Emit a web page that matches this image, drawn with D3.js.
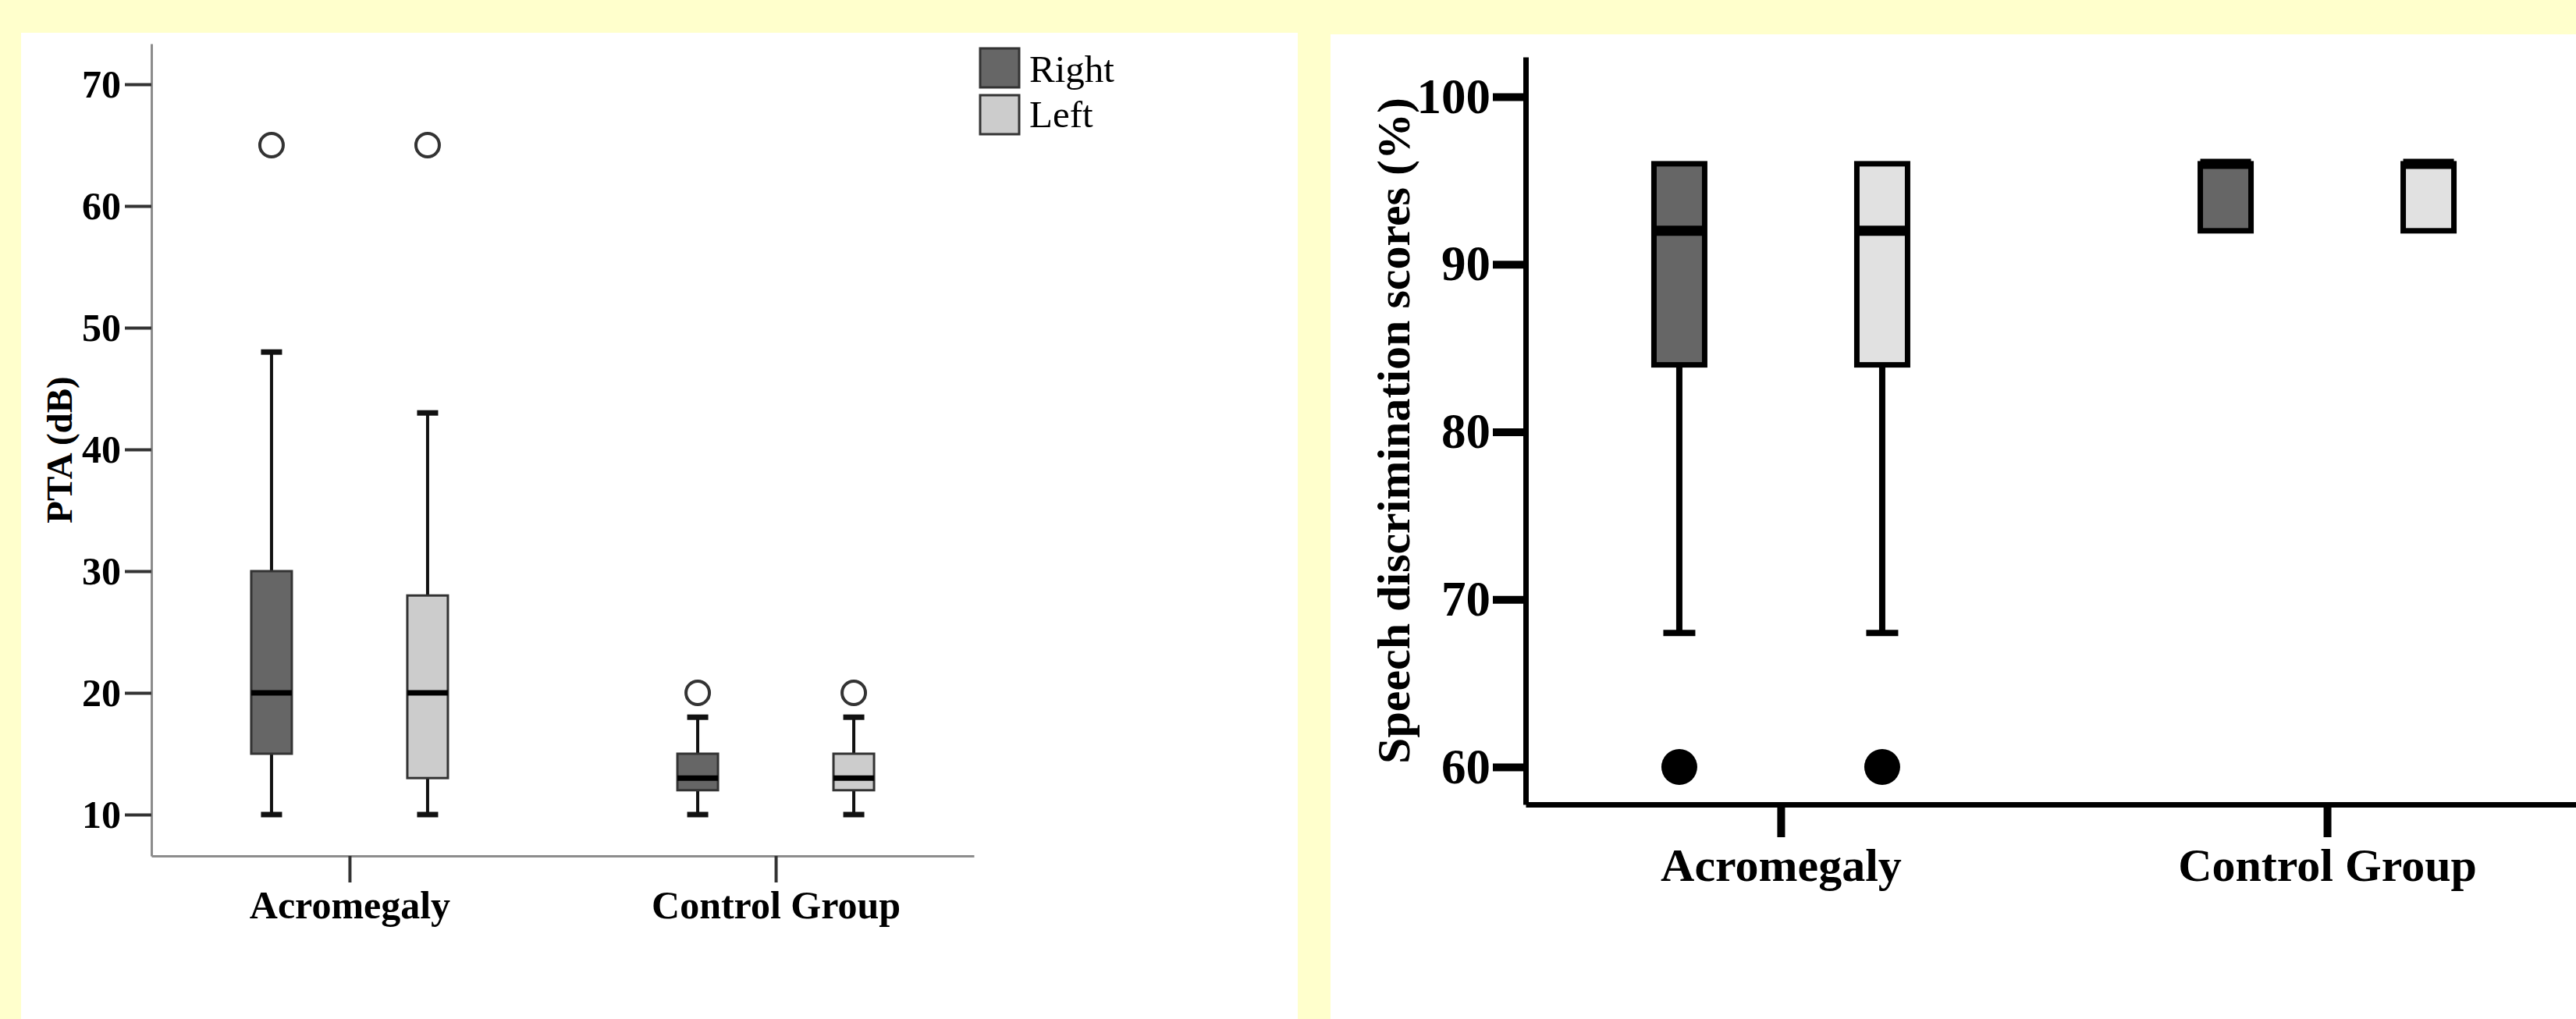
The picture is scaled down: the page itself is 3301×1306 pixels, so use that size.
<!DOCTYPE html>
<html>
<head>
<meta charset="utf-8">
<script src="https://cdn.jsdelivr.net/npm/d3@7"></script>
<style>
  html, body { margin: 0; padding: 0; background: #ffffcc; }
  svg { display: block; }
  text { font-family: "Liberation Serif", "Times New Roman", serif; fill: #000; }
</style>
</head>
<body>
<div id="app"></div>
<script>
// groups on the x axis and the two ears
const groups = ['Acromegaly', 'Control Group']
const sides = ['Right', 'Left']

// PTA (dB): [low whisker, Q1, median, Q3, high whisker] per group
const ptaRight = [[10, 15, 20, 30, 48], [10, 12, 13, 15, 18]]
const ptaLeft = [[10, 13, 20, 28, 43], [10, 12, 13, 15, 18]]
const ptaOutRight = [[65], [20]]
const ptaOutLeft = [[65], [20]]
const ptaTicks = [10, 20, 30, 40, 50, 60, 70]

// speech discrimination scores (%)
const sdsRight = [[68, 84, 92, 96, 96], [92, 92, 96, 96, 96]]
const sdsLeft = [[68, 84, 92, 96, 96], [92, 92, 96, 96, 96]]
const sdsOutRight = [[60], []]
const sdsOutLeft = [[60], []]
const sdsTicks = [60, 70, 80, 90, 100]

const fills = { Right: '#666666', Left: '#cccccc' }

var svg = d3.select('#app').append('svg')
    .attr('width', 3301)
    .attr('height', 1306)

svg.append('rect').attr('width', 3301).attr('height', 1306).attr('fill', '#ffffcc')
svg.append('rect').attr('x', 27).attr('y', 42).attr('width', 1636).attr('height', 1264).attr('fill', '#fff')
svg.append('rect').attr('x', 1705).attr('y', 44).attr('width', 1596).attr('height', 1262).attr('fill', '#fff')

const drawChart = (o) => {
  // value scale, stretched so the axis line runs past the first and last tick
  let y = d3.scaleLinear().domain(o.tickDomain).range(o.tickRange)
  y.domain([y.invert(o.bottom), y.invert(o.top)]).range([o.bottom, o.top])

  let x = d3.scalePoint().domain(groups).range([o.left, o.right]).padding(o.pad)
  let xs = d3.scalePoint().domain(sides).range([-o.offset, o.offset])

  let g = svg.append('g')

  let ya = g.append('g')
      .attr('transform', 'translate(' + o.left + ',0)')
      .call(d3.axisLeft(y).tickValues(o.ticks).tickSize(o.tickLen).tickSizeOuter(0).tickPadding(o.yPad))
  ya.select('.domain').attr('stroke', o.axisColor).attr('stroke-width', o.axisWidth)
  ya.selectAll('.tick line').attr('stroke', o.tickColor).attr('stroke-width', o.tickWidth)
  ya.selectAll('.tick text')
      .style('font-family', '"Liberation Serif", "Times New Roman", serif')
      .style('font-weight', 'bold').style('font-size', o.yFont + 'px').attr('fill', '#000')

  let xa = g.append('g')
      .attr('transform', 'translate(0,' + o.bottom + ')')
      .call(d3.axisBottom(x).tickSize(o.tickLen).tickSizeOuter(0).tickPadding(o.xPad))
  xa.select('.domain').attr('stroke', o.axisColor).attr('stroke-width', o.axisWidth)
  xa.selectAll('.tick line').attr('stroke', o.tickColor).attr('stroke-width', o.tickWidth)
  xa.selectAll('.tick text')
      .style('font-family', '"Liberation Serif", "Times New Roman", serif')
      .style('font-weight', 'bold').style('font-size', o.xFont + 'px').attr('fill', '#000')

  g.append('text')
      .attr('transform', 'translate(' + o.titleX + ',' + (o.top + o.bottom) / 2 + ') rotate(-90)')
      .attr('text-anchor', 'middle')
      .style('font-weight', 'bold')
      .style('font-size', o.titleFont + 'px')
      .text(o.title)

  groups.forEach((grp, i) => {
    sides.forEach(side => {
      let d = side === 'Right' ? o.right_[i] : o.left_[i]
      let outs = side === 'Right' ? o.outRight[i] : o.outLeft[i]
      let cx = x(grp) + xs(side)
      let w = o.boxWidth
      let b = g.append('g')

      if (d[0] < d[1]) {
        b.append('line').attr('x1', cx).attr('x2', cx).attr('y1', y(d[0])).attr('y2', y(d[1]))
            .attr('stroke', o.whiskerColor).attr('stroke-width', o.whiskerWidth)
        b.append('line').attr('x1', cx - o.capWidth / 2).attr('x2', cx + o.capWidth / 2)
            .attr('y1', y(d[0])).attr('y2', y(d[0]))
            .attr('stroke', o.whiskerColor).attr('stroke-width', o.capThick)
      }
      if (d[4] > d[3]) {
        b.append('line').attr('x1', cx).attr('x2', cx).attr('y1', y(d[3])).attr('y2', y(d[4]))
            .attr('stroke', o.whiskerColor).attr('stroke-width', o.whiskerWidth)
        b.append('line').attr('x1', cx - o.capWidth / 2).attr('x2', cx + o.capWidth / 2)
            .attr('y1', y(d[4])).attr('y2', y(d[4]))
            .attr('stroke', o.whiskerColor).attr('stroke-width', o.capThick)
      }

      b.append('rect')
          .attr('x', cx - w / 2).attr('y', y(d[3]))
          .attr('width', w).attr('height', y(d[1]) - y(d[3]))
          .attr('fill', side === 'Right' ? o.fillRight : o.fillLeft)
          .attr('stroke', o.boxStroke).attr('stroke-width', o.boxStrokeWidth)

      b.append('line')
          .attr('x1', cx - w / 2).attr('x2', cx + w / 2)
          .attr('y1', y(d[2])).attr('y2', y(d[2]))
          .attr('stroke', '#000').attr('stroke-width', o.medianWidth)

      b.selectAll('circle')
        .data(outs)
        .enter().append('circle')
          .attr('cx', cx)
          .attr('cy', v => y(v))
          .attr('r', o.outR)
          .attr('fill', o.outFill)
          .attr('stroke', o.outStroke)
          .attr('stroke-width', o.outStrokeWidth)
    })
  })
  return g
}

// left: PTA
drawChart({
  tickDomain: [10, 70], tickRange: [1044, 108],
  top: 56, bottom: 1097, left: 194, right: 1248, pad: 0.465, offset: 100,
  ticks: ptaTicks, tickLen: 34, yPad: 5, xPad: 10,
  axisColor: '#8c8c8c', axisWidth: 3, tickColor: '#333', tickWidth: 4,
  yFont: 50, xFont: 50,
  title: 'PTA (dB)', titleX: 92, titleFont: 47,
  right_: ptaRight, left_: ptaLeft, outRight: ptaOutRight, outLeft: ptaOutLeft,
  fillRight: fills.Right, fillLeft: fills.Left,
  boxWidth: 52, boxStroke: '#333', boxStrokeWidth: 3, medianWidth: 7,
  whiskerColor: '#111', whiskerWidth: 4, capWidth: 27, capThick: 7,
  outR: 15, outFill: '#fff', outStroke: '#333', outStrokeWidth: 4
})

// legend
var legend = svg.append('g').attr('transform', 'translate(1256,62)')
legend.selectAll('rect')
  .data(sides)
  .enter().append('rect')
    .attr('x', 0)
    .attr('y', (d, i) => i * 60)
    .attr('width', 50).attr('height', 50)
    .attr('fill', d => fills[d])
    .attr('stroke', '#333').attr('stroke-width', 3)
legend.selectAll('text')
  .data(sides)
  .enter().append('text')
    .attr('x', 63)
    .attr('y', (d, i) => 43 + i * 58)
    .style('font-size', '49px')
    .text(d => d)

// right: speech discrimination
drawChart({
  tickDomain: [60, 100], tickRange: [983, 124],
  top: 73, bottom: 1031, left: 1955, right: 3309, pad: 0.467, offset: 130,
  ticks: sdsTicks, tickLen: 42, yPad: 3, xPad: 13,
  axisColor: '#000', axisWidth: 7, tickColor: '#000', tickWidth: 10,
  yFont: 63, xFont: 60,
  title: 'Speech discrimination scores (%)', titleX: 1806, titleFont: 60,
  right_: sdsRight, left_: sdsLeft, outRight: sdsOutRight, outLeft: sdsOutLeft,
  fillRight: '#666666', fillLeft: '#e1e1e1',
  boxWidth: 65, boxStroke: '#000', boxStrokeWidth: 7, medianWidth: 13,
  whiskerColor: '#000', whiskerWidth: 8, capWidth: 41, capThick: 8,
  outR: 23, outFill: '#000', outStroke: 'none', outStrokeWidth: 0
})
</script>
</body>
</html>
